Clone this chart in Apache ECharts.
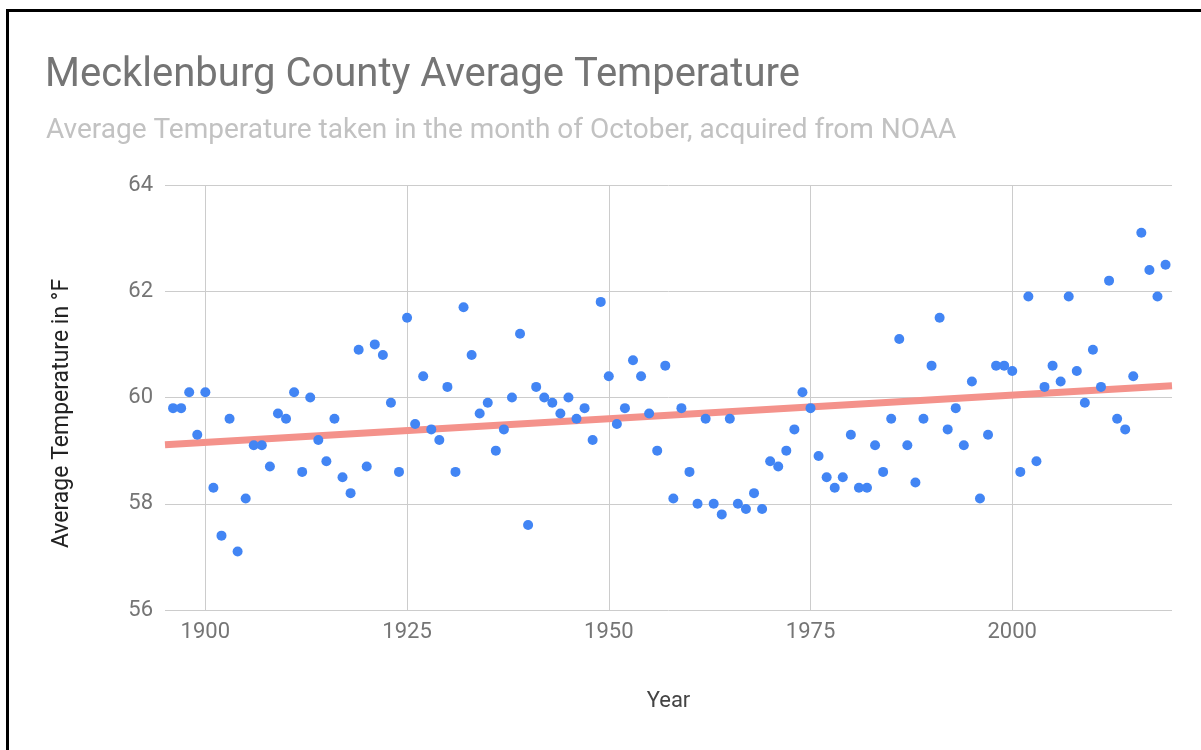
<!DOCTYPE html>
<html>
<head>
<meta charset="utf-8">
<script src="https://cdn.jsdelivr.net/npm/echarts@6/dist/echarts.min.js"></script>
<style>
  html, body { margin: 0; padding: 0; background: #fff; overflow: hidden; }
  #frame { position: absolute; left: 6px; top: 9px; width: 1300px; height: 800px; border-left: 3px solid #000; border-top: 3px solid #000; }
  #chart { position: absolute; left: 0; top: 0; width: 1201px; height: 750px; }
</style>
</head>
<body>
<div id="frame"></div>
<div id="chart"></div>
<script>
const titleText = 'Mecklenburg County Average Temperature';
const subtitleText = 'Average Temperature taken in the month of October, acquired from NOAA';
const xAxisName = 'Year';
const yAxisName = 'Average Temperature in °F';

const years = [
  1896, 1897, 1898, 1899, 1900, 1901, 1902, 1903, 1904, 1905,
  1906, 1907, 1908, 1909, 1910, 1911, 1912, 1913, 1914, 1915,
  1916, 1917, 1918, 1919, 1920, 1921, 1922, 1923, 1924, 1925,
  1926, 1927, 1928, 1929, 1930, 1931, 1932, 1933, 1934, 1935,
  1936, 1937, 1938, 1939, 1940, 1941, 1942, 1943, 1944, 1945,
  1946, 1947, 1948, 1949, 1950, 1951, 1952, 1953, 1954, 1955,
  1956, 1957, 1958, 1959, 1960, 1961, 1962, 1963, 1964, 1965,
  1966, 1967, 1968, 1969, 1970, 1971, 1972, 1973, 1974, 1975,
  1976, 1977, 1978, 1979, 1980, 1981, 1982, 1983, 1984, 1985,
  1986, 1987, 1988, 1989, 1990, 1991, 1992, 1993, 1994, 1995,
  1996, 1997, 1998, 1999, 2000, 2001, 2002, 2003, 2004, 2005,
  2006, 2007, 2008, 2009, 2010, 2011, 2012, 2013, 2014, 2015,
  2016, 2017, 2018, 2019
];
const temps = [
  59.8, 59.8, 60.1, 59.3, 60.1, 58.3, 57.4, 59.6, 57.1, 58.1,
  59.1, 59.1, 58.7, 59.7, 59.6, 60.1, 58.6, 60.0, 59.2, 58.8,
  59.6, 58.5, 58.2, 60.9, 58.7, 61.0, 60.8, 59.9, 58.6, 61.5,
  59.5, 60.4, 59.4, 59.2, 60.2, 58.6, 61.7, 60.8, 59.7, 59.9,
  59.0, 59.4, 60.0, 61.2, 57.6, 60.2, 60.0, 59.9, 59.7, 60.0,
  59.6, 59.8, 59.2, 61.8, 60.4, 59.5, 59.8, 60.7, 60.4, 59.7,
  59.0, 60.6, 58.1, 59.8, 58.6, 58.0, 59.6, 58.0, 57.8, 59.6,
  58.0, 57.9, 58.2, 57.9, 58.8, 58.7, 59.0, 59.4, 60.1, 59.8,
  58.9, 58.5, 58.3, 58.5, 59.3, 58.3, 58.3, 59.1, 58.6, 59.6,
  61.1, 59.1, 58.4, 59.6, 60.6, 61.5, 59.4, 59.8, 59.1, 60.3,
  58.1, 59.3, 60.6, 60.6, 60.5, 58.6, 61.9, 58.8, 60.2, 60.6,
  60.3, 61.9, 60.5, 59.9, 60.9, 60.2, 62.2, 59.6, 59.4, 60.4,
  63.1, 62.4, 61.9, 62.5
];
// Trendline endpoints
const trendYears = [1895, 2019.8];
const trendTemps = [59.11, 60.22];
const xTicks = [1900, 1925, 1950, 1975, 2000];

const chart = echarts.init(document.getElementById('chart'), null, { renderer: 'canvas' });
const font = 'Roboto, "Noto Sans", sans-serif';

chart.setOption({
  animation: false,
  backgroundColor: 'transparent',
  title: [
    { text: titleText, left: 40, top: 51, textStyle: { fontFamily: font, fontSize: 40, fontWeight: 'normal', color: '#757575' } },
    { text: subtitleText, left: 41, top: 112, textStyle: { fontFamily: font, fontSize: 28, fontWeight: 'normal', color: '#c2c2c2' } }
  ],
  grid: { left: 165, right: 29, top: 185, bottom: 140, containLabel: false },
  xAxis: {
    type: 'value',
    min: trendYears[0],
    max: trendYears[1],
    name: xAxisName,
    nameLocation: 'middle',
    nameGap: 80,
    nameTextStyle: { fontFamily: font, fontSize: 22, color: '#444' },
    axisLine: { show: false },
    axisTick: { show: false },
    splitLine: { show: false },
    axisLabel: { customValues: xTicks, fontFamily: font, fontSize: 22, color: '#757575', margin: 11, formatter: v => String(v) }
  },
  yAxis: {
    type: 'value',
    min: 56,
    max: 64,
    interval: 2,
    name: yAxisName,
    nameLocation: 'middle',
    nameGap: 91,
    nameTextStyle: { fontFamily: font, fontSize: 23, color: '#222', padding: [0, 32, 0, 0] },
    axisLine: { show: false },
    axisTick: { show: false },
    splitLine: { show: true, lineStyle: { color: '#cccccc', width: 1 } },
    axisLabel: { fontFamily: font, fontSize: 22, color: '#757575', margin: 12 }
  },
  series: [
    {
      type: 'line',
      data: trendYears.map((y, i) => [y, trendTemps[i]]),
      showSymbol: false,
      symbol: 'none',
      lineStyle: { color: '#f4928b', width: 7 },
      z: 2,
      silent: true,
      markLine: {
        silent: true,
        symbol: 'none',
        label: { show: false },
        lineStyle: { color: '#cccccc', width: 1, type: 'solid' },
        data: xTicks.map(v => ({ xAxis: v })),
        z: 1
      }
    },
    {
      type: 'scatter',
      data: years.map((y, i) => [y, temps[i]]),
      symbolSize: 10,
      itemStyle: { color: '#4285f4', opacity: 1 },
      z: 3
    }
  ]
});
</script>
</body>
</html>
